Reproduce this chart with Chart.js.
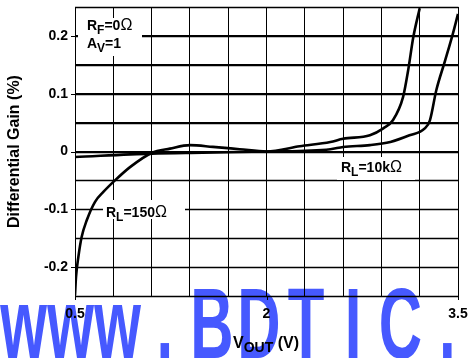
<!DOCTYPE html>
<html>
<head>
<meta charset="utf-8">
<script src="https://cdn.jsdelivr.net/npm/chart.js@4/dist/chart.umd.min.js"></script>
<style>
  html, body { margin: 0; padding: 0; background: #fff; }
  canvas { display: block; }
</style>
</head>
<body>
<canvas id="gainChart" width="471" height="358"></canvas>
<script>
// RL = 150 ohm
const vout150 = [0.5, 0.508, 0.526, 0.552, 0.592, 0.657, 0.722, 0.813, 0.931, 1.1, 1.244, 1.4, 1.58, 1.79, 2.0, 2.26, 2.5, 2.6, 2.81, 2.915, 2.99, 3.07, 3.11, 3.15, 3.2];
const gain150 = [-0.249, -0.217, -0.183, -0.148, -0.119, -0.087, -0.070, -0.050, -0.027, -0.0025, 0.005, 0.011, 0.008, 0.004, 0, 0.009, 0.0165, 0.022, 0.028, 0.040, 0.054, 0.0945, 0.141, 0.198, 0.248];
// RL = 10k ohm
const vout10k = [0.5, 1.1, 1.5, 2.0, 2.5, 2.6, 2.81, 2.97, 3.12, 3.24, 3.28, 3.33, 3.40, 3.46, 3.5];
const gain10k = [-0.0094, -0.0036, -0.002, 0, 0.004, 0.0079, 0.011, 0.0165, 0.028, 0.040, 0.054, 0.106, 0.158, 0.204, 0.238];

const xTickValues = [0.5, 2, 3.5];
const xTickLabels = ['0.5', '2', '3.5'];
const yTickValues = [0.2, 0.1, 0, -0.1, -0.2];
const yTickLabels = ['0.2', '0.1', '0', '-0.1', '-0.2'];

const FONT = 'Arial, "Liberation Sans", sans-serif';

function toPoints(xs, ys) {
  return xs.map((x, i) => ({ x: x, y: ys[i] }));
}

function findLabel(values, labels, v) {
  const i = values.findIndex(t => Math.abs(t - v) < 1e-6);
  return i < 0 ? '' : labels[i];
}

// text with subscripts, parts = [text, kind] kind: 0 normal, 1 sub, 2 thin symbol
function drawParts(ctx, x, y, parts, size) {
  parts.forEach(([t, kind]) => {
    if (kind === 1) ctx.font = `bold ${size - 2}px ${FONT}`;
    else if (kind === 2) ctx.font = `normal ${size + 2}px ${FONT}`;
    else ctx.font = `bold ${size}px ${FONT}`;
    ctx.fillText(t, x, y + (kind === 1 ? 4 : 0));
    x += ctx.measureText(t).width;
  });
}

const watermark = {
  id: 'watermark',
  beforeDraw(chart) {
    const ctx = chart.ctx;
    const text = 'www.BDTIC.';
    ctx.save();
    ctx.fillStyle = '#4659ff';
    ctx.font = 'bold 100px "Liberation Sans", Arial, sans-serif';
    ctx.textAlign = 'center';
    ctx.textBaseline = 'alphabetic';
    for (let i = 0; i < text.length; i++) {
      ctx.save();
      ctx.translate(i * 47.1 + 23.5, 358);
      ctx.scale(0.6, 1);
      ctx.fillText(text[i], 0, 0);
      ctx.restore();
    }
    ctx.restore();
  }
};

const annotations = {
  id: 'annotations',
  afterDraw(chart) {
    const ctx = chart.ctx;
    const { x, y } = chart.scales;
    const area = chart.chartArea;
    ctx.save();
    ctx.strokeStyle = '#000';
    ctx.lineWidth = 1.4;
    // horizontal grid lines from the y scale ticks
    ctx.beginPath();
    y.ticks.forEach(t => {
      const py = Math.round(y.getPixelForValue(t.value)) + 0.5;
      ctx.moveTo(area.left, py);
      ctx.lineTo(area.right + 0.5, py);
    });
    ctx.stroke();
    ctx.lineWidth = 1;
    ctx.beginPath();
    // short outside ticks at the labelled values
    yTickValues.forEach(v => {
      const py = Math.round(y.getPixelForValue(v)) + 0.5;
      ctx.moveTo(area.left - 4, py);
      ctx.lineTo(area.left, py);
    });
    xTickValues.forEach(v => {
      const px = Math.round(x.getPixelForValue(v)) + 0.5;
      ctx.moveTo(px, area.bottom);
      ctx.lineTo(px, area.bottom + 4);
    });
    ctx.stroke();

    ctx.fillStyle = '#fff';
    ctx.fillRect(78, 18, 64, 38);
    ctx.fillRect(103, 200, 82, 19);
    ctx.fillRect(337, 157, 78, 23);
    ctx.fillStyle = '#000';
    ctx.textBaseline = 'alphabetic';
    ctx.textAlign = 'left';
    drawParts(ctx, 87, 30, [['R', 0], ['F', 1], ['=0', 0], ['Ω', 2]], 14);
    drawParts(ctx, 87, 48, [['A', 0], ['V', 1], ['=1', 0]], 14);
    drawParts(ctx, 106, 217, [['R', 0], ['L', 1], ['=150', 0], ['Ω', 2]], 14);
    drawParts(ctx, 341, 172, [['R', 0], ['L', 1], ['=10k', 0], ['Ω', 2]], 14);
    // x axis title with subscript
    drawParts(ctx, 233, 348, [['V', 0], ['OUT', 1], [' (V)', 0]], 16);
    ctx.restore();
  }
};

const ctx = document.getElementById('gainChart');

new Chart(ctx, {
  type: 'scatter',
  data: {
    datasets: [
      {
        label: 'RL=150Ω',
        data: toPoints(vout150, gain150),
        showLine: true,
        borderColor: '#000',
        borderWidth: 2.6,
        pointRadius: 0,
        cubicInterpolationMode: 'monotone'
      },
      {
        label: 'RL=10kΩ',
        data: toPoints(vout10k, gain10k),
        showLine: true,
        borderColor: '#000',
        borderWidth: 2.6,
        pointRadius: 0,
        cubicInterpolationMode: 'monotone'
      }
    ]
  },
  options: {
    responsive: false,
    animation: false,
    devicePixelRatio: 1,
    layout: { padding: { top: 7, right: 13, left: 0, bottom: 0 } },
    plugins: {
      legend: { display: false },
      tooltip: { enabled: false }
    },
    scales: {
      x: {
        type: 'linear',
        min: 0.5,
        max: 3.5,
        afterFit: s => { s.height = 62; s.paddingLeft = 0; s.paddingRight = 0; },
        ticks: {
          stepSize: 0.3,
          autoSkip: false,
          maxRotation: 0,
          padding: 10,
          color: '#000',
          font: { family: FONT, size: 14, weight: 'bold' },
          callback: v => findLabel(xTickValues, xTickLabels, v)
        },
        grid: {
          drawTicks: false,
          color: '#000',
          lineWidth: 1
        },
        border: { display: true, color: '#000', width: 1 }
      },
      y: {
        type: 'linear',
        min: -0.25,
        max: 0.25,
        afterFit: s => { s.width = 75; s.paddingTop = 0; s.paddingBottom = 0; },
        ticks: {
          stepSize: 0.05,
          autoSkip: false,
          padding: 7,
          color: '#000',
          font: { family: FONT, size: 14, weight: 'bold' },
          callback: v => findLabel(yTickValues, yTickLabels, v)
        },
        grid: {
          drawTicks: false,
          color: '#000',
          lineWidth: 1
        },
        border: { display: true, color: '#000', width: 1 },
        title: {
          display: true,
          text: 'Differential Gain (%)',
          color: '#000',
          padding: { top: 5, bottom: 0 },
          font: { family: FONT, size: 16, weight: 'bold' }
        }
      }
    }
  },
  plugins: [watermark, annotations]
});
</script>
</body>
</html>
